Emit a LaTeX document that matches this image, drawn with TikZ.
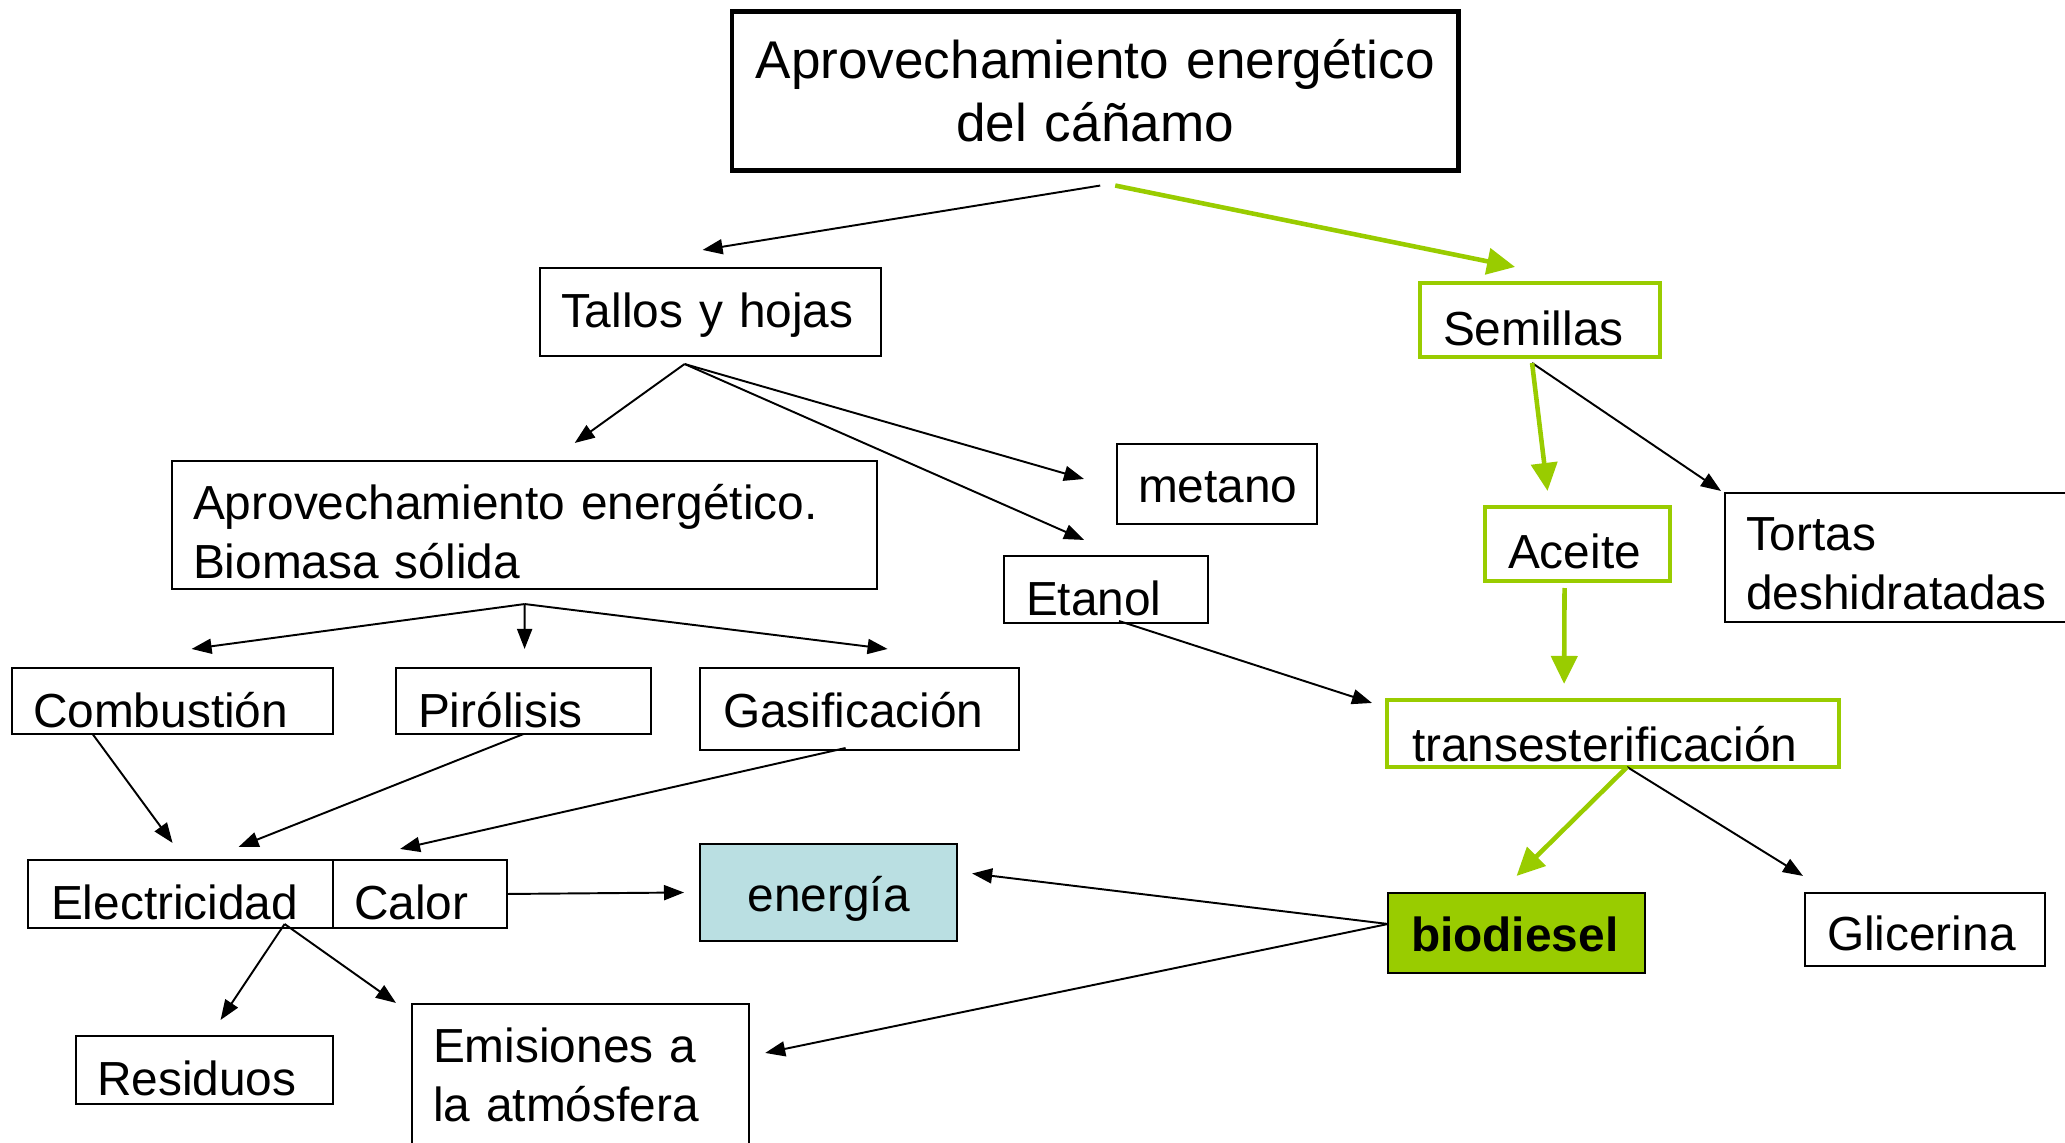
\documentclass[tikz,border=0pt]{standalone}
\usepackage{fontspec}
\setmainfont{Liberation Sans}
\usetikzlibrary{arrows.meta,calc}
\definecolor{hempgreen}{HTML}{99CC00}
\definecolor{energyblue}{HTML}{BADFE2}
\newcommand\bodysize{\fontsize{13.6}{16.5}\selectfont}
\newcommand\titlesize{\fontsize{15.1}{17.9}\selectfont}
\tikzset{
  box/.style={draw, line width=0.55pt, inner ysep=0pt, outer sep=0pt, anchor=base west, align=left, font=\bodysize},
  greenbox/.style={box, draw=hempgreen, line width=1.2pt},
  arr/.style={-{Triangle[length=0.2cm,width=0.15cm]}, line width=0.55pt},
  greenarr/.style={-{Triangle[length=0.28cm,width=0.26cm]}, hempgreen, line width=1.3pt},
}
\begin{document}
\begin{tikzpicture}[x=0.01cm,y=-0.01cm]
\useasboundingbox (0,0) rectangle (2065,1143);
% boxes
\node[box, line width=1.4pt, align=center, font=\titlesize, inner xsep=0.2cm, text width=6.86cm, text height=0.67cm, text depth=0.915cm] (title) at (732,79) {Aprovechamiento energético\\del cáñamo};
\node[box, inner xsep=0.21cm, text width=2.99cm, text height=0.60cm, text depth=0.28cm] (tallos) at (540,328) {Tallos y hojas};
\node[greenbox, inner xsep=0.23cm, text width=1.94cm, text height=0.63cm, text depth=0.11cm] (semillas) at (1420,346) {Semillas};
\node[box, inner xsep=0.21cm, text width=6.63cm, text height=0.59cm, text depth=0.69cm] (biomasa) at (172,520) {Aprovechamiento energético.\\Biomasa sólida};
\node[box, inner xsep=0.21cm, text width=1.58cm, text height=0.59cm, text depth=0.21cm] (metano) at (1117,503) {metano};
\node[box, inner xsep=0.22cm, text width=1.60cm, text height=0.60cm, text depth=0.07cm] (etanol) at (1004,616) {Etanol};
\node[greenbox, inner xsep=0.23cm, text width=1.39cm, text height=0.62cm, text depth=0.12cm] (aceite) at (1485,569) {Aceite};
\node[box, inner xsep=0.21cm, text width=3.13cm, text height=0.58cm, text depth=0.71cm] (tortas) at (1725,551) {Tortas\\deshidratadas};
\node[box, inner xsep=0.21cm, text width=2.79cm, text height=0.60cm, text depth=0.06cm] (combustion) at (12,728) {Combustión};
\node[box, inner xsep=0.22cm, text width=2.11cm, text height=0.60cm, text depth=0.06cm] (pirolisis) at (396,728) {Pirólisis};
\node[box, inner xsep=0.23cm, text width=2.73cm, text height=0.60cm, text depth=0.22cm] (gasificacion) at (700,728) {Gasificación};
\node[box, inner xsep=0.23cm, text width=2.59cm, text height=0.60cm, text depth=0.08cm] (electricidad) at (28,920) {Electricidad};
\node[box, inner xsep=0.21cm, text width=1.32cm, text height=0.60cm, text depth=0.08cm] (calor) at (333,920) {Calor};
\node[box, fill=energyblue, align=center, inner xsep=0.20cm, text width=2.17cm, text height=0.68cm, text depth=0.29cm] (energia) at (700,912) {energía};
\node[box, inner xsep=0.21cm, text width=2.15cm, text height=0.60cm, text depth=0.08cm] (residuos) at (76,1096) {Residuos};
\node[box, inner xsep=0.21cm, text width=2.95cm, text height=0.59cm, text depth=1.07cm] (emisiones) at (412,1063) {Emisiones a\\la atmósfera};
\node[greenbox, inner xsep=0.25cm, text width=4.02cm, text height=0.62cm, text depth=0.05cm] (trans) at (1387,762) {transesterificación};
\node[box, fill=hempgreen, font=\bodysize\bfseries, inner xsep=0.23cm, text width=2.11cm, text height=0.59cm, text depth=0.21cm] (biodiesel) at (1388,952) {biodiesel};
\node[box, inner xsep=0.22cm, text width=1.96cm, text height=0.58cm, text depth=0.15cm] (glicerina) at (1805,951) {Glicerina};
% arrows
\draw[arr] ($(title.south)+(5,15)$) -- ($(tallos.north)+(-8,-18)$);
\draw[greenarr] ($(title.south)+(20,15)$) -- ($(semillas.north)+(-25,-16)$);
\coordinate (tallosfork) at ($(tallos.south)+(-26,8)$);
\draw[arr] (tallosfork) -- ($(biomasa.north)+(50,-18)$);
\draw[arr] (tallosfork) -- ($(metano.west)+(-33,-5)$);
\draw[arr] (tallosfork) -- ($(etanol.north)+(-22,-16)$);
\coordinate (biomasafork) at ($(biomasa.south)+(0,15)$);
\foreach \t/\dx in {combustion/19, pirolisis/1, gasificacion/28}
  \draw[arr] (biomasafork) -- ($(\t.north)+(\dx,-19)$);
\draw[arr] ($(combustion.south)+(-80,0)$) -- ($(electricidad.north)+(-8,-17)$);
\draw[arr] (pirolisis.south) -- ($(electricidad.north)+(58,-13)$);
\draw[arr] ($(gasificacion.south)+(-14,-2)$) -- ($(calor.north)+(-20,-11)$);
\draw[arr] (calor.east) -- ($(energia.west)+(-16,0)$);
\coordinate (electrofork) at ($(electricidad.south)+(104,-4)$);
\draw[arr] (electrofork) -- ($(residuos.north)+(16,-16)$);
\draw[arr] (electrofork) -- ($(emisiones.north west)+(-16,-1)$);
\coordinate (biodieselfork) at ($(biodiesel.west)+(0,-9)$);
\draw[arr] (biodieselfork) -- ($(energia.east)+(15,-19)$);
\draw[arr] (biodieselfork) -- ($(emisiones.north east)+(16,49)$);
\draw[arr] ($(etanol.south)+(13,-2)$) -- ($(trans.north west)+(-15,3)$);
\coordinate (semillasfork) at ($(semillas.south)+(-8,6)$);
\draw[arr] (semillasfork) -- ($(tortas.north west)+(-4,-2)$);
\draw[greenarr] (semillasfork) -- ($(aceite.north)+(-30,-16)$);
\draw[greenarr] ($(aceite.south)+(-13,7)$) -- ($(trans.north)+(-49,-16)$);
\coordinate (transfork) at ($(trans.south)+(14,0)$);
\draw[arr] (transfork) -- ($(glicerina.north west)+(-2,-17)$);
\draw[greenarr] (transfork) -- ($(biodiesel.north)+(0,-17)$);
\end{tikzpicture}
\end{document}
